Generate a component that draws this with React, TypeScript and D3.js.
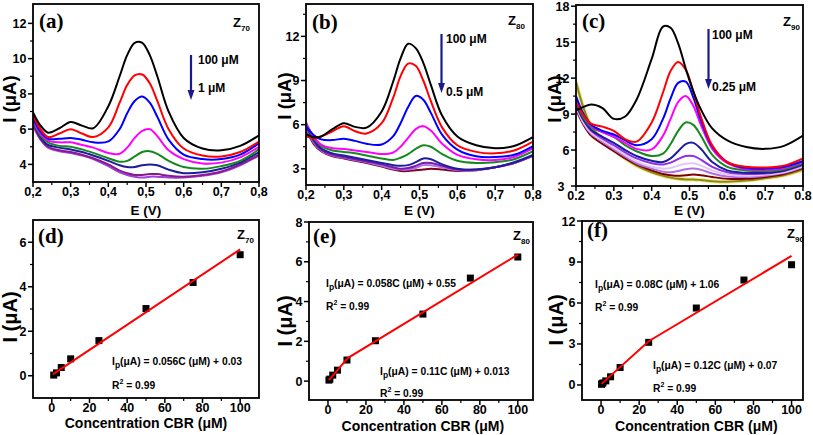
import React from "react";
import * as d3 from "d3";

const W = 813;
const H = 435;
const SANS = "'Liberation Sans', Arial, Helvetica, sans-serif";
const SERIF = "'Liberation Serif', 'Times New Roman', serif";

// ---------- DPV curves: potential grid (V) ----------
const E_GRID = [0.2, 0.22, 0.24, 0.27, 0.3, 0.33, 0.36, 0.4, 0.43, 0.45, 0.47, 0.49, 0.51, 0.53, 0.56, 0.6, 0.65, 0.7, 0.75, 0.8];

// Panel (a) Z70 : 100 µM -> 1 µM
const COLORS_A = ["#000000", "#ff0000", "#0000ff", "#ff00ff", "#148a1e", "#1c1c9c", "#8a1a8a", "#a040e0"];
const CURVES_A = [
  [6.95, 6.2, 5.8, 6.05, 6.4, 6.2, 6.05, 7.3, 9.0, 10.2, 10.9, 10.9, 10.2, 9.0, 7.0, 5.5, 4.9, 4.8, 5.05, 5.65],
  [6.8, 6.0, 5.55, 5.75, 6.0, 5.75, 5.55, 6.1, 7.5, 8.5, 9.05, 9.1, 8.6, 7.6, 6.0, 4.9, 4.5, 4.45, 4.7, 5.3],
  [6.6, 5.85, 5.45, 5.45, 5.5, 5.4, 5.25, 5.3, 6.0, 6.9, 7.6, 7.85, 7.5, 6.7, 5.4, 4.55, 4.3, 4.3, 4.55, 5.2],
  [6.5, 5.75, 5.35, 5.25, 5.25, 5.1, 4.95, 4.65, 4.6, 4.95, 5.5, 5.9, 6.0, 5.6, 4.8, 4.3, 4.05, 4.1, 4.4, 5.0],
  [6.45, 5.65, 5.25, 5.05, 5.0, 4.85, 4.65, 4.35, 4.15, 4.2, 4.45, 4.7, 4.75, 4.6, 4.2, 3.85, 3.75, 3.9, 4.2, 4.85],
  [6.4, 5.55, 5.1, 4.95, 4.85, 4.7, 4.5, 4.2, 3.95, 3.85, 3.85, 3.95, 4.0, 3.95, 3.7, 3.5, 3.55, 3.75, 4.1, 4.7],
  [6.3, 5.45, 5.0, 4.8, 4.7, 4.55, 4.35, 4.0, 3.65, 3.5, 3.4, 3.4, 3.45, 3.45, 3.35, 3.3, 3.4, 3.6, 4.0, 4.55],
  [6.2, 5.4, 4.95, 4.75, 4.65, 4.5, 4.3, 3.9, 3.55, 3.4, 3.3, 3.25, 3.3, 3.3, 3.25, 3.25, 3.35, 3.55, 3.95, 4.5],
];

// Panel (b) Z80 : 100 µM -> 0.5 µM
const COLORS_B = ["#000000", "#ff0000", "#0000ff", "#ff00ff", "#148a1e", "#1c1c9c", "#7a1ab0", "#b070e8", "#800020"];
const CURVES_B = [
  [5.35, 5.15, 5.2, 5.7, 6.1, 5.85, 5.8, 6.9, 8.9, 10.5, 11.5, 11.2, 10.2, 8.7, 6.6, 5.2, 4.6, 4.4, 4.55, 5.15],
  [5.2, 5.1, 5.2, 5.55, 5.9, 5.55, 5.4, 6.1, 7.8, 9.3, 10.15, 10.0, 9.0, 7.6, 5.8, 4.6, 4.15, 4.05, 4.25, 4.85],
  [5.9, 5.3, 5.0, 4.95, 5.05, 4.9, 4.7, 4.65, 5.2, 6.1, 7.2, 7.95, 7.7, 6.8, 5.3, 4.3, 3.85, 3.8, 3.95, 4.55],
  [6.1, 5.2, 4.65, 4.4, 4.35, 4.25, 4.15, 4.0, 4.1, 4.5, 5.1, 5.7, 5.9, 5.6, 4.7, 3.95, 3.65, 3.6, 3.8, 4.4],
  [6.15, 5.1, 4.55, 4.25, 4.15, 4.05, 3.9, 3.7, 3.6, 3.75, 4.0, 4.35, 4.6, 4.5, 4.0, 3.55, 3.4, 3.45, 3.65, 4.2],
  [6.0, 5.0, 4.4, 4.05, 3.9, 3.75, 3.6, 3.4, 3.25, 3.2, 3.25, 3.45, 3.7, 3.65, 3.3, 3.0, 2.95, 3.1, 3.45, 3.95],
  [5.9, 4.9, 4.3, 3.95, 3.8, 3.65, 3.5, 3.3, 3.1, 3.0, 3.05, 3.2, 3.4, 3.4, 3.2, 2.95, 2.95, 3.1, 3.4, 3.9],
  [5.8, 4.8, 4.25, 3.9, 3.75, 3.6, 3.45, 3.2, 3.0, 2.95, 2.95, 3.05, 3.25, 3.25, 3.1, 2.9, 2.9, 3.1, 3.4, 3.9],
  [5.7, 4.7, 4.2, 3.85, 3.7, 3.55, 3.4, 3.15, 2.95, 2.85, 2.85, 2.9, 2.95, 3.0, 2.95, 2.85, 2.9, 3.1, 3.4, 3.9],
];

// Panel (c) Z90 : 100 µM -> 0.25 µM
const COLORS_C = ["#000000", "#ff0000", "#0000ff", "#ff00ff", "#148a1e", "#1c1c9c", "#9030e8", "#e0c8f8", "#b070e0", "#800000", "#8a8a10"];
const CURVES_C = [
  [9.3, 9.6, 9.8, 9.5, 8.6, 8.8, 10.2, 13.6, 16.3, 16.2, 14.9, 12.8, 10.9, 9.4, 7.8, 6.8, 6.25, 6.1, 6.35, 7.2],
  [10.0, 8.9, 8.2, 7.95, 7.6, 6.9, 6.7, 8.3, 10.8, 12.6, 13.35, 12.7, 10.9, 8.8, 6.4, 5.0, 4.6, 4.55, 4.7, 5.3],
  [10.5, 9.0, 8.1, 7.6, 7.3, 6.8, 6.4, 6.9, 8.6, 10.3, 11.6, 11.7, 10.4, 8.5, 6.3, 5.0, 4.5, 4.45, 4.6, 5.1],
  [10.2, 8.9, 8.0, 7.5, 7.1, 6.6, 6.1, 6.05, 7.2, 8.6, 10.0, 10.5, 9.7, 8.1, 6.1, 4.9, 4.4, 4.35, 4.5, 5.0],
  [10.0, 8.7, 7.9, 7.5, 7.1, 6.4, 5.9, 5.5, 5.7, 6.5, 7.6, 8.3, 8.1, 7.2, 5.6, 4.6, 4.3, 4.25, 4.4, 4.9],
  [9.8, 8.5, 7.7, 7.1, 6.6, 6.0, 5.5, 5.1, 5.0, 5.3, 5.9, 6.5, 6.6, 6.1, 5.0, 4.3, 4.1, 4.1, 4.3, 4.8],
  [9.9, 8.5, 7.6, 6.95, 6.4, 5.8, 5.3, 4.9, 4.8, 4.95, 5.25, 5.5, 5.5, 5.2, 4.6, 4.15, 4.0, 4.05, 4.25, 4.75],
  [9.7, 8.3, 7.45, 6.8, 6.2, 5.6, 5.05, 4.6, 4.45, 4.5, 4.7, 4.85, 4.9, 4.7, 4.3, 3.95, 3.85, 3.95, 4.15, 4.65],
  [9.6, 8.2, 7.35, 6.7, 6.05, 5.45, 4.9, 4.45, 4.2, 4.15, 4.25, 4.4, 4.45, 4.35, 4.05, 3.8, 3.75, 3.85, 4.1, 4.6],
  [9.4, 8.1, 7.2, 6.5, 5.9, 5.3, 4.8, 4.3, 4.0, 3.9, 3.85, 3.9, 3.95, 3.9, 3.75, 3.6, 3.6, 3.75, 4.0, 4.5],
  [11.7, 9.5, 8.0, 6.9, 6.0, 5.3, 4.7, 4.15, 3.85, 3.7, 3.6, 3.55, 3.55, 3.5, 3.4, 3.35, 3.45, 3.65, 3.9, 4.35],
];

// ---------- Calibration data ----------
const CONC_D = [1, 2.5, 5, 10, 25, 50, 75, 100];
const IP_D = [0.03, 0.13, 0.37, 0.76, 1.58, 3.02, 4.19, 5.44];
const FIT_D_C = [0.5, 100];
const FIT_D_I = [0.06, 5.68];

const CONC_E = [0.5, 1, 2.5, 5, 10, 25, 50, 75, 100];
const IP_E = [0.05, 0.1, 0.3, 0.55, 1.06, 2.03, 3.37, 5.18, 6.24];
const FIT_E_C = [0.5, 10.4, 100];
const FIT_E_I = [0.05, 1.16, 6.36];

const CONC_F = [0.25, 0.5, 1, 2.5, 5, 10, 25, 50, 75, 100];
const IP_F = [0.05, 0.1, 0.15, 0.3, 0.6, 1.28, 3.12, 5.63, 7.68, 8.8];
const FIT_F_C = [0.25, 25, 100];
const FIT_F_I = [0.08, 3.2, 9.45];

// ---------- ticks ----------
const E_TICKS = [0.2, 0.3, 0.4, 0.5, 0.6, 0.7, 0.8];
const E_MINOR = [0.25, 0.35, 0.45, 0.55, 0.65, 0.75];
const C_TICKS = [0, 20, 40, 60, 80, 100];
const C_MINOR = [10, 30, 50, 70, 90];
const YT_A = [4, 6, 8, 10, 12];
const YM_A = [5, 7, 9, 11];
const YT_B = [3, 6, 9, 12];
const YM_B = [4.5, 7.5, 10.5, 13.5];
const YT_C = [3, 6, 9, 12, 15, 18];
const YM_C = [4.5, 7.5, 10.5, 13.5, 16.5];
const YT_D = [0, 2, 4, 6];
const YM_D = [1, 3, 5];
const YT_E = [0, 2, 4, 6, 8];
const YM_E = [1, 3, 5, 7];
const YT_F = [0, 3, 6, 9, 12];
const YM_F = [1.5, 4.5, 7.5, 10.5];

type Lin = d3.ScaleLinear<number, number>;

function Axes(props: {
  x: Lin; y: Lin; xMajor: number[]; xMinor: number[]; yMajor: number[]; yMinor: number[];
  fmtX: (v: number) => string; labOff: number; firstYShift?: number;
}) {
  const { x, y, xMajor, xMinor, yMajor, yMinor, fmtX, labOff, firstYShift = 0 } = props;
  const [x0, x1] = x.range();
  const [yb, yt] = y.range();
  return (
    <g>
      {xMinor.map((t) => (
        <line key={"xm" + t} x1={x(t)} x2={x(t)} y1={yb} y2={yb + 3} stroke="#000" strokeWidth={1.2} />
      ))}
      {xMajor.map((t) => (
        <g key={"xM" + t}>
          <line x1={x(t)} x2={x(t)} y1={yb} y2={yb + 5} stroke="#000" strokeWidth={1.5} />
          <text x={x(t)} y={yb + labOff} textAnchor="middle" fontFamily={SANS} fontWeight="bold" fontSize={12.5}>
            {fmtX(t)}
          </text>
        </g>
      ))}
      {yMinor.map((t) => (
        <line key={"ym" + t} x1={x0} x2={x0 - 3} y1={y(t)} y2={y(t)} stroke="#000" strokeWidth={1.2} />
      ))}
      {yMajor.map((t, i) => (
        <g key={"yM" + t}>
          <line x1={x0} x2={x0 - 5} y1={y(t)} y2={y(t)} stroke="#000" strokeWidth={1.5} />
          <text x={x0 - 6.5 - (i === 0 ? firstYShift : 0)} y={y(t) + 4.5} textAnchor="end" fontFamily={SANS} fontWeight="bold" fontSize={12.5}>
            {t}
          </text>
        </g>
      ))}
      <rect x={x0} y={yt} width={x1 - x0} height={yb - yt} fill="none" stroke="#000" strokeWidth={1.8} />
    </g>
  );
}

function YTitle({ x, y, size }: { x: number; y: number; size: number }) {
  return (
    <text transform={`translate(${x},${y}) rotate(-90)`} textAnchor="middle" fontFamily={SANS} fontWeight="bold" fontSize={size}>
      I (μA)
    </text>
  );
}

function ZLabel({ x, y, sub }: { x: number; y: number; sub: string }) {
  return (
    <text x={x} y={y} fontFamily={SANS} fontWeight="bold" fontSize={13}>
      Z<tspan fontSize={8} dy={4}>{sub}</tspan>
    </text>
  );
}

function PanelLabel({ x, y, t }: { x: number; y: number; t: string }) {
  return (
    <text x={x} y={y} fontFamily={SERIF} fontWeight="bold" fontSize={21}>
      {t}
    </text>
  );
}

function Arrow({ x, y1, y2, tx, t1, t2, ty1, ty2 }: { x: number; y1: number; y2: number; tx: number; t1: string; t2: string; ty1: number; ty2: number }) {
  const col = "#1a1a8c";
  return (
    <g>
      <line x1={x} x2={x} y1={y1} y2={y2 - 9} stroke={col} strokeWidth={2.2} />
      <path d={`M${x - 3.5},${y2 - 10} L${x + 3.5},${y2 - 10} L${x},${y2} Z`} fill={col} />
      <text x={tx} y={ty1} fontFamily={SANS} fontWeight="bold" fontSize={12}>{t1}</text>
      <text x={tx} y={ty2} fontFamily={SANS} fontWeight="bold" fontSize={12}>{t2}</text>
    </g>
  );
}

function Equation({ x, y, body, r2dy }: { x: number; y: number; body: string; r2dy: number }) {
  return (
    <g fontFamily={SANS} fontWeight="bold" fontSize={10.3}>
      <text x={x} y={y}>
        I<tspan fontSize={8.5} dy={3}>p</tspan>
        <tspan dy={-3}>{"(μA) =  " + body}</tspan>
      </text>
      <text x={x} y={y + r2dy}>
        R<tspan fontSize={7} dy={-5}>2</tspan>
        <tspan dy={5}>{" = 0.99"}</tspan>
      </text>
    </g>
  );
}

function CVPanel(props: {
  id: string; xr: [number, number]; yr: [number, number]; yDom: [number, number];
  yMajor: number[]; yMinor: number[]; comma: boolean; curves: number[][]; colors: string[]; firstYShift?: number;
}) {
  const { id, xr, yr, yDom, yMajor, yMinor, comma, curves, colors, firstYShift } = props;
  const x = d3.scaleLinear().domain([0.2, 0.8]).range(xr);
  const y = d3.scaleLinear().domain(yDom).range(yr);
  const f = d3.format(".1f");
  const fmtX = (v: number) => (comma ? f(v).replace(".", ",") : f(v));
  const line = d3
    .line<number>()
    .x((_, i) => x(E_GRID[i]))
    .y((d) => y(d))
    .curve(d3.curveCatmullRom.alpha(0.5));
  const order = curves.map((_, i) => i).reverse();
  return (
    <g>
      <defs>
        <clipPath id={"clip" + id}>
          <rect x={xr[0]} y={yr[1]} width={xr[1] - xr[0]} height={yr[0] - yr[1]} />
        </clipPath>
      </defs>
      <g clipPath={`url(#clip${id})`}>
        {order.map((i) => (
          <g key={i}>
            {colors[i] === "#8a8a10" && (
              <path d={line(curves[i]) || ""} fill="none" stroke="#f0e890" strokeWidth={4} />
            )}
            <path d={line(curves[i]) || ""} fill="none" stroke={colors[i]} strokeWidth={2} />
          </g>
        ))}
      </g>
      <Axes x={x} y={y} xMajor={E_TICKS} xMinor={E_MINOR} yMajor={yMajor} yMinor={yMinor} fmtX={fmtX} labOff={14} firstYShift={firstYShift} />
      <text x={(xr[0] + xr[1]) / 2} y={215} textAnchor="middle" fontFamily={SANS} fontWeight="bold" fontSize={13.5}>
        E (V)
      </text>
    </g>
  );
}

function CalPanel(props: {
  xr: [number, number]; xDom: [number, number]; yr: [number, number]; yDom: [number, number];
  yMajor: number[]; yMinor: number[]; conc: number[]; ip: number[]; fitC: number[]; fitI: number[]; titleY: number;
}) {
  const { xr, xDom, yr, yDom, yMajor, yMinor, conc, ip, fitC, fitI, titleY } = props;
  const x = d3.scaleLinear().domain(xDom).range(xr);
  const y = d3.scaleLinear().domain(yDom).range(yr);
  const fit = d3
    .line<number>()
    .x((d) => x(d))
    .y((_, i) => y(fitI[i]));
  const s = 7;
  return (
    <g>
      {conc.map((c, i) => (
        <rect key={i} x={x(c) - s / 2} y={y(ip[i]) - s / 2} width={s} height={s} fill="#000" />
      ))}
      <path d={fit(fitC) || ""} fill="none" stroke="#ff0000" strokeWidth={2} />
      <Axes x={x} y={y} xMajor={C_TICKS} xMinor={C_MINOR} yMajor={yMajor} yMinor={yMinor} fmtX={(v) => String(v)} labOff={14} />
      <text x={(x(0) + x(100)) / 2} y={titleY} textAnchor="middle" fontFamily={SANS} fontWeight="bold" fontSize={14}>
        Concentration CBR (μM)
      </text>
    </g>
  );
}

export default function App() {
  return (
    <svg width={W} height={H} style={{ position: "absolute", left: 0, top: 0, background: "#fff" }}>
      <rect x={0} y={0} width={W} height={H} fill="#fff" />

      {/* Top row */}
      <CVPanel id="a" xr={[33, 259]} yr={[182, 4]} yDom={[3, 13.1]} yMajor={YT_A} yMinor={YM_A} comma={true} curves={CURVES_A} colors={COLORS_A} />
      <CVPanel id="b" xr={[306, 533]} yr={[185, 4]} yDom={[1.9, 14.2]} yMajor={YT_B} yMinor={YM_B} comma={true} curves={CURVES_B} colors={COLORS_B} />
      <CVPanel id="c" xr={[576, 803]} yr={[186, 5]} yDom={[3, 18.1]} yMajor={YT_C} yMinor={YM_C} comma={false} curves={CURVES_C} colors={COLORS_C} firstYShift={5} />

      <YTitle x={16} y={99} size={18.5} />
      <YTitle x={291} y={96} size={18.5} />
      <YTitle x={561} y={99} size={18.5} />

      <PanelLabel x={39} y={28} t="(a)" />
      <PanelLabel x={312} y={29} t="(b)" />
      <PanelLabel x={582} y={28} t="(c)" />

      <ZLabel x={233} y={27} sub="70" />
      <ZLabel x={508} y={25} sub="80" />
      <ZLabel x={783} y={26} sub="90" />

      <Arrow x={191} y1={55} y2={100} tx={198} t1="100 μM" t2="1 μM" ty1={64} ty2={92} />
      <Arrow x={441.5} y1={34} y2={93} tx={446} t1="100 μM" t2="0.5 μM" ty1={43} ty2={96} />
      <Arrow x={708.5} y1={29} y2={89} tx={712} t1="100 μM" t2="0.25 μM" ty1={39} ty2={91} />

      {/* Bottom row */}
      <CalPanel xr={[33, 259]} xDom={[-10, 110]} yr={[398, 220]} yDom={[-1, 7]} yMajor={YT_D} yMinor={YM_D} conc={CONC_D} ip={IP_D} fitC={FIT_D_C} fitI={FIT_D_I} titleY={427.5} />
      <CalPanel xr={[309, 533]} xDom={[-10, 108]} yr={[400, 222]} yDom={[-0.95, 8]} yMajor={YT_E} yMinor={YM_E} conc={CONC_E} ip={IP_E} fitC={FIT_E_C} fitI={FIT_E_I} titleY={431} />
      <CalPanel xr={[582, 803]} xDom={[-10, 106]} yr={[400, 221]} yDom={[-1.1, 12]} yMajor={YT_F} yMinor={YM_F} conc={CONC_F} ip={IP_F} fitC={FIT_F_C} fitI={FIT_F_I} titleY={431} />

      <YTitle x={17} y={317} size={20} />
      <YTitle x={292} y={321} size={20} />
      <YTitle x={563} y={320} size={20} />

      <PanelLabel x={38} y={243} t="(d)" />
      <PanelLabel x={313} y={243} t="(e)" />
      <PanelLabel x={587} y={237} t="(f)" />

      <ZLabel x={237} y={239} sub="70" />
      <ZLabel x={513} y={240} sub="80" />
      <ZLabel x={787} y={238} sub="90" />

      <Equation x={112} y={365} body="0.056C (μM) + 0.03" r2dy={24} />
      <Equation x={326} y={287} body="0.058C (μM) + 0.55" r2dy={23} />
      <Equation x={380} y={375} body="0.11C (μM) + 0.013" r2dy={22} />
      <Equation x={595} y={288} body="0.08C (μM) + 1.06" r2dy={23} />
      <Equation x={653} y={369} body="0.12C (μM) + 0.07" r2dy={23} />
    </svg>
  );
}
